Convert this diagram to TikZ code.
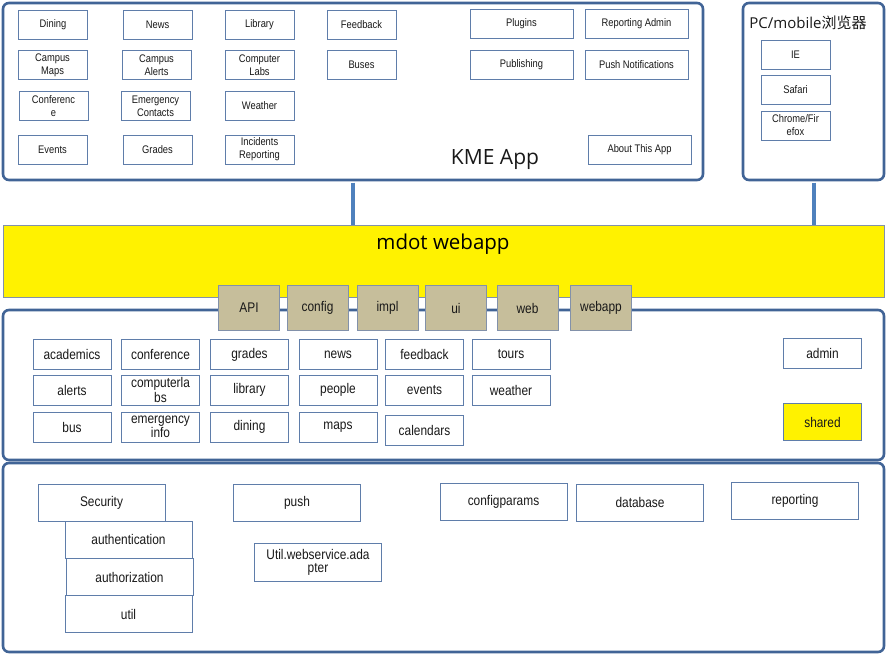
\documentclass[tikz,border=0pt]{standalone}
\usepackage{fontspec}
\setmainfont{Liberation Sans}[FakeStretch=0.85]
\newfontfamily\titlefont{Open Sans}
\newfontfamily\cjkfont{Noto Sans CJK SC}
\definecolor{frameblue}{RGB}{65,100,150}
\definecolor{linkblue}{RGB}{79,129,189}
\definecolor{boxblue}{RGB}{95,125,170}
\definecolor{barline}{RGB}{130,145,170}
\definecolor{tabtan}{RGB}{198,190,155}
\definecolor{textgray}{RGB}{25,25,25}
\tikzset{
  frame/.style={draw=frameblue, line width=2.6pt, rounded corners=6pt, fill=white, inner sep=0pt},
  kmebox/.style={draw=boxblue, line width=0.9pt, fill=white, minimum width=69pt, minimum height=29pt,
    inner sep=1pt, align=center, text=textgray, font=\fontsize{11}{13}\selectfont},
  widebox/.style={kmebox, minimum width=103pt},
  modbox/.style={kmebox, minimum width=78pt, minimum height=30pt, font=\fontsize{14}{13}\selectfont},
  tabbox/.style={modbox, fill=tabtan, draw=barline, minimum width=61pt, minimum height=45pt},
  libbox/.style={modbox, minimum width=127pt, minimum height=37pt},
  link/.style={draw=linkblue, line width=4pt}
}
\begin{document}
\begin{tikzpicture}[x=1pt, y=-1pt]
  \useasboundingbox (0,0) rectangle (887,654);
  \node[frame, minimum width=700pt, minimum height=177pt] (kme) at (353,91.5) {};
  \node[frame, minimum width=141pt, minimum height=177pt] (browser) at (813.5,91.5) {};
  \node[draw=barline, line width=0.8pt, fill=yellow, minimum width=881pt, minimum height=72pt, inner sep=0pt] (bar) at (443.5,261) {};
  \draw[link] ([yshift=-1.3pt]kme.south) -- (kme.south |- bar.north);
  \draw[link] ([yshift=-1.3pt]browser.south) -- (browser.south |- bar.north);
  \node[frame, minimum width=881pt, minimum height=150pt] (modules) at (443.5,385) {};
  \node[frame, minimum width=881pt, minimum height=189pt] (libs) at (443.5,557.5) {};

  \node[text=textgray, font=\titlefont\fontsize{21}{21}\selectfont] (kmetitle) at (495,159) {KME App};
  \node[text=textgray, font=\fontsize{15}{15}\selectfont] (browsertitle) at (808,23) {{\titlefont PC/mobile}{\cjkfont 浏览器}};
  \node[text=black, font=\titlefont\fontsize{20.5}{20.5}\selectfont] (bartitle) at (443,244) {mdot webapp};

  \node[kmebox] (dining) at (53,24.5) {Dining};
  \node[kmebox] (news) at (157.5,24.5) {News};
  \node[kmebox] (library) at (259.5,24.5) {Library};
  \node[kmebox] (feedback) at (361.5,24.5) {Feedback};
  \node[kmebox] (maps) at (52.5,65) {Campus\\Maps};
  \node[kmebox] (alerts) at (156.5,65) {Campus\\Alerts};
  \node[kmebox] (labs) at (259.5,65) {Computer\\Labs};
  \node[kmebox] (buses) at (361.5,65) {Buses};
  \node[kmebox] (conference) at (53.5,106) {Conferenc\\e};
  \node[kmebox] (contacts) at (155.5,106) {Emergency\\Contacts};
  \node[kmebox] (weather) at (259.5,106) {Weather};
  \node[kmebox] (events) at (52.5,149.5) {Events};
  \node[kmebox] (grades) at (157.5,149.5) {Grades};
  \node[kmebox] (incidents) at (259.5,149.5) {Incidents\\Reporting};
  \node[widebox] (plugins) at (521.5,23.5) {Plugins};
  \node[widebox] (repadmin) at (636.5,23.5) {Reporting Admin};
  \node[widebox] (publishing) at (521.5,64.5) {Publishing};
  \node[widebox] (pushnote) at (636.5,64.5) {Push Notifications};
  \node[widebox] (about) at (639.5,149.5) {About This App};

  \node[kmebox] (ie) at (795.5,54.5) {IE};
  \node[kmebox] (safari) at (795.5,89.5) {Safari};
  \node[kmebox] (chrome) at (795.5,125.5) {Chrome/Fir\\efox};

  \node[tabbox] (api) at (249,308) {API};
  \node[tabbox] (config) at (317.5,308) {config};
  \node[tabbox] (impl) at (387.5,308) {impl};
  \node[tabbox] (ui) at (456,308) {ui};
  \node[tabbox] (web) at (527.5,308) {web};
  \node[tabbox] (webapp) at (601,308) {webapp};

  \node[modbox] (academics) at (72,354.5) {academics};
  \node[modbox] (mconference) at (160.5,354.5) {conference};
  \node[modbox] (mgrades) at (249.5,354.5) {grades};
  \node[modbox] (mnews) at (338,354.5) {news};
  \node[modbox] (mfeedback) at (424.5,354.5) {feedback};
  \node[modbox] (tours) at (511,354.5) {tours};
  \node[modbox] (malerts) at (72,390) {alerts};
  \node[modbox] (mlabs) at (160.5,390) {computerla\\bs};
  \node[modbox] (mlibrary) at (249.5,390) {library};
  \node[modbox] (people) at (338,390) {people};
  \node[modbox] (mevents) at (424.5,390) {events};
  \node[modbox] (mweather) at (511,390) {weather};
  \node[modbox] (bus) at (72,427) {bus};
  \node[modbox] (emergency) at (160.5,427) {emergency\\info};
  \node[modbox] (mdining) at (249.5,427) {dining};
  \node[modbox] (mmaps) at (338,427) {maps};
  \node[modbox] (calendars) at (424.5,430) {calendars};
  \node[modbox] (admin) at (822.5,353) {admin};
  \node[modbox, fill=yellow, minimum height=37pt] (shared) at (822.5,422) {shared};

  \node[libbox] (security) at (101.5,503) {Security};
  \node[libbox] (authentication) at (128.5,539.5) {authentication};
  \node[libbox] (authorization) at (129.5,577) {authorization};
  \node[libbox] (util) at (128.5,614) {util};
  \node[libbox] (push) at (297,503) {push};
  \node[libbox, minimum height=38pt] (adapter) at (318,562) {Util.webservice.ada\\pter};
  \node[libbox] (configparams) at (503.5,501.5) {configparams};
  \node[libbox] (database) at (640,502.5) {database};
  \node[libbox] (reporting) at (795,500.5) {reporting};
\end{tikzpicture}
\end{document}
